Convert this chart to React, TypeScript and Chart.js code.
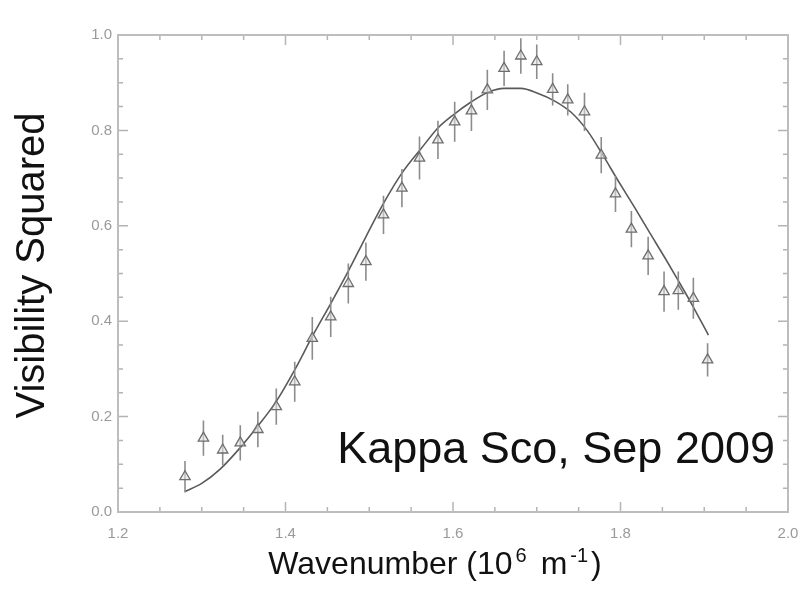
import { useEffect, useRef } from "react";
import { Chart, registerables } from "chart.js";

Chart.register(...registerables);

// Measured squared visibilities (wavenumber in 10^6 m^-1)
const wavenumber = [
  1.280, 1.302, 1.325, 1.346, 1.367, 1.389, 1.411, 1.432, 1.454, 1.475,
  1.496, 1.517, 1.539, 1.560, 1.582, 1.602, 1.622, 1.641, 1.661, 1.681,
  1.700, 1.719, 1.737, 1.757, 1.777, 1.794, 1.813, 1.833, 1.852, 1.869,
  1.887, 1.904,
];
const visibility2 = [
  0.074, 0.155, 0.130, 0.145, 0.173, 0.221, 0.273, 0.364, 0.409, 0.479,
  0.525, 0.623, 0.679, 0.742, 0.780, 0.818, 0.841, 0.885, 0.930, 0.956,
  0.944, 0.886, 0.864, 0.839, 0.748, 0.667, 0.593, 0.537, 0.462, 0.464,
  0.448, 0.319,
];
const visErrors = [
  0.033, 0.037, 0.032, 0.037, 0.037, 0.038, 0.042, 0.045, 0.042, 0.042,
  0.040, 0.040, 0.040, 0.045, 0.040, 0.042, 0.042, 0.042, 0.037, 0.037,
  0.036, 0.034, 0.033, 0.040, 0.038, 0.038, 0.038, 0.040, 0.042, 0.040,
  0.043, 0.035,
];

// Model curve
const modelX = [
  1.280, 1.300, 1.322, 1.346, 1.366, 1.389, 1.411, 1.432, 1.454, 1.475,
  1.496, 1.518, 1.540, 1.562, 1.582, 1.600, 1.622, 1.642, 1.661, 1.681,
  1.701, 1.721, 1.741, 1.761, 1.779, 1.797, 1.817, 1.835, 1.853, 1.869,
  1.885, 1.905,
];
const modelY = [
  0.043, 0.060, 0.090, 0.135, 0.178, 0.232, 0.298, 0.368, 0.437, 0.505,
  0.577, 0.650, 0.713, 0.762, 0.805, 0.832, 0.860, 0.880, 0.888, 0.888,
  0.878, 0.862, 0.838, 0.798, 0.748, 0.695, 0.638, 0.585, 0.533, 0.485,
  0.436, 0.371,
];

const xTickLabels = ["1.2", "1.4", "1.6", "1.8", "2.0"];
const yTickLabels = ["0.0", "0.2", "0.4", "0.6", "0.8", "1.0"];

const annotationText = "Kappa Sco, Sep 2009";
// x title pieces: [text, font size, rise, gap before]
const xTitleParts: [string, number, number, number][] = [
  ["Wavenumber (10", 32, 0, 0],
  ["6", 20, 12, 3],
  ["m", 32, 0, 14],
  ["-1", 20, 12, 3],
  [")", 32, 0, 3],
];
const yTitle = "Visibility Squared";

const FONT = "'Liberation Sans', Arial, Helvetica, sans-serif";

function labelFor(list: string[]) {
  return (v: number | string) => {
    const s = Number(v).toFixed(1);
    const isMajor = Math.abs(Number(v) * 5 - Math.round(Number(v) * 5)) < 1e-6;
    return isMajor && list.includes(s) ? s : "";
  };
}

const idlBoxPlugin = {
  id: "idlBox",
  afterDatasetsDraw(chart: any) {
    const { ctx, chartArea } = chart;
    const { left, right, top, bottom } = chartArea;
    ctx.save();
    ctx.strokeStyle = "#b4b4b4";
    ctx.lineWidth = 1.5;
    const xs = chart.scales.x;
    xs.ticks.forEach((t: any) => {
      const px = xs.getPixelForValue(t.value);
      const len = t.label ? 10 : 5;
      ctx.beginPath();
      ctx.moveTo(px, bottom);
      ctx.lineTo(px, bottom - len);
      ctx.moveTo(px, top);
      ctx.lineTo(px, top + len);
      ctx.stroke();
    });
    const ys = chart.scales.y;
    ys.ticks.forEach((t: any) => {
      const py = ys.getPixelForValue(t.value);
      const len = t.label ? 10 : 5;
      ctx.beginPath();
      ctx.moveTo(left, py);
      ctx.lineTo(left + len, py);
      ctx.moveTo(right, py);
      ctx.lineTo(right - len, py);
      ctx.stroke();
    });
    ctx.lineWidth = 2;
    ctx.strokeStyle = "#bdbdbd";
    ctx.strokeRect(left, top, right - left, bottom - top);
    ctx.restore();
  },
  afterDraw(chart: any) {
    const { ctx, chartArea } = chart;
    const { left, right, top, bottom } = chartArea;
    ctx.save();
    ctx.fillStyle = "#111";
    // annotation
    ctx.font = `45px ${FONT}`;
    ctx.textAlign = "right";
    ctx.textBaseline = "alphabetic";
    ctx.fillText(annotationText, right - 13, bottom - 49);

    // x title (with superscripts)
    ctx.textAlign = "left";
    let total = 0;
    const widths = xTitleParts.map(([t, size, , gap]) => {
      ctx.font = `${size}px ${FONT}`;
      const w = ctx.measureText(t).width;
      total += w + gap;
      return w;
    });
    let cx = (left + right) / 2 - 18 - total / 2;
    const baseY = bottom + 62;
    xTitleParts.forEach(([t, size, rise, gap], i) => {
      cx += gap;
      ctx.font = `${size}px ${FONT}`;
      ctx.fillText(t, cx, baseY - rise);
      cx += widths[i];
    });

    // y title
    ctx.translate(left - 85, (top + bottom) / 2 - 8);
    ctx.rotate(-Math.PI / 2);
    ctx.font = `40px ${FONT}`;
    ctx.textAlign = "center";
    ctx.textBaseline = "middle";
    ctx.fillText(yTitle, 0, 0);
    ctx.restore();
  },
};

export default function App() {
  const ref = useRef<HTMLCanvasElement | null>(null);

  useEffect(() => {
    if (!ref.current) return;
    const errData: any[] = [];
    wavenumber.forEach((x, i) => {
      errData.push({ x, y: visibility2[i] - visErrors[i] });
      errData.push({ x, y: visibility2[i] + visErrors[i] });
      errData.push({ x, y: null });
    });
    const chart = new Chart(ref.current, {
      type: "scatter",
      data: {
        datasets: [
          {
            type: "line",
            label: "model",
            data: modelX.map((x, i) => ({ x, y: modelY[i] })),
            borderColor: "#5a5a5a",
            borderWidth: 1.6,
            pointRadius: 0,
            cubicInterpolationMode: "monotone",
            fill: false,
            order: 3,
          } as any,
          {
            type: "line",
            label: "errors",
            data: errData,
            borderColor: "#8c8c8c",
            borderWidth: 1.6,
            pointRadius: 0,
            spanGaps: false,
            fill: false,
            order: 2,
          } as any,
          {
            type: "scatter",
            label: "V2",
            data: wavenumber.map((x, i) => ({ x, y: visibility2[i] })),
            pointStyle: "triangle",
            pointRadius: 6,
            borderColor: "#6e6e6e",
            borderWidth: 1.3,
            backgroundColor: "rgba(225,225,225,0.55)",
            order: 1,
          } as any,
        ],
      },
      options: {
        animation: false,
        responsive: false,
        maintainAspectRatio: false,
        layout: { padding: { top: 35, right: 14, left: 0, bottom: 0 } },
        plugins: {
          legend: { display: false },
          tooltip: { enabled: false },
        },
        scales: {
          x: {
            type: "linear",
            min: 1.2,
            max: 2.0,
            grid: { display: false, drawTicks: false },
            border: { display: false },
            ticks: {
              stepSize: 0.05,
              autoSkip: false,
              maxRotation: 0,
              padding: 13,
              color: "#9a9a9a",
              font: { family: FONT, size: 15 },
              callback: labelFor(xTickLabels),
            },
            afterFit: (s: any) => {
              s.height = 79;
              s.paddingLeft = 0;
              s.paddingRight = 0;
            },
          },
          y: {
            type: "linear",
            min: 0,
            max: 1.0,
            grid: { display: false, drawTicks: false },
            border: { display: false },
            ticks: {
              stepSize: 0.05,
              autoSkip: false,
              padding: 6,
              color: "#9a9a9a",
              font: { family: FONT, size: 15 },
              callback: labelFor(yTickLabels),
            },
            afterFit: (s: any) => {
              s.width = 118;
              s.paddingTop = 0;
              s.paddingBottom = 0;
            },
          },
        },
      },
      plugins: [idlBoxPlugin],
    });
    return () => chart.destroy();
  }, []);

  return (
    <canvas
      ref={ref}
      width={802}
      height={591}
      style={{ position: "fixed", left: 0, top: 0, width: 802, height: 591, background: "#fff" }}
    />
  );
}
